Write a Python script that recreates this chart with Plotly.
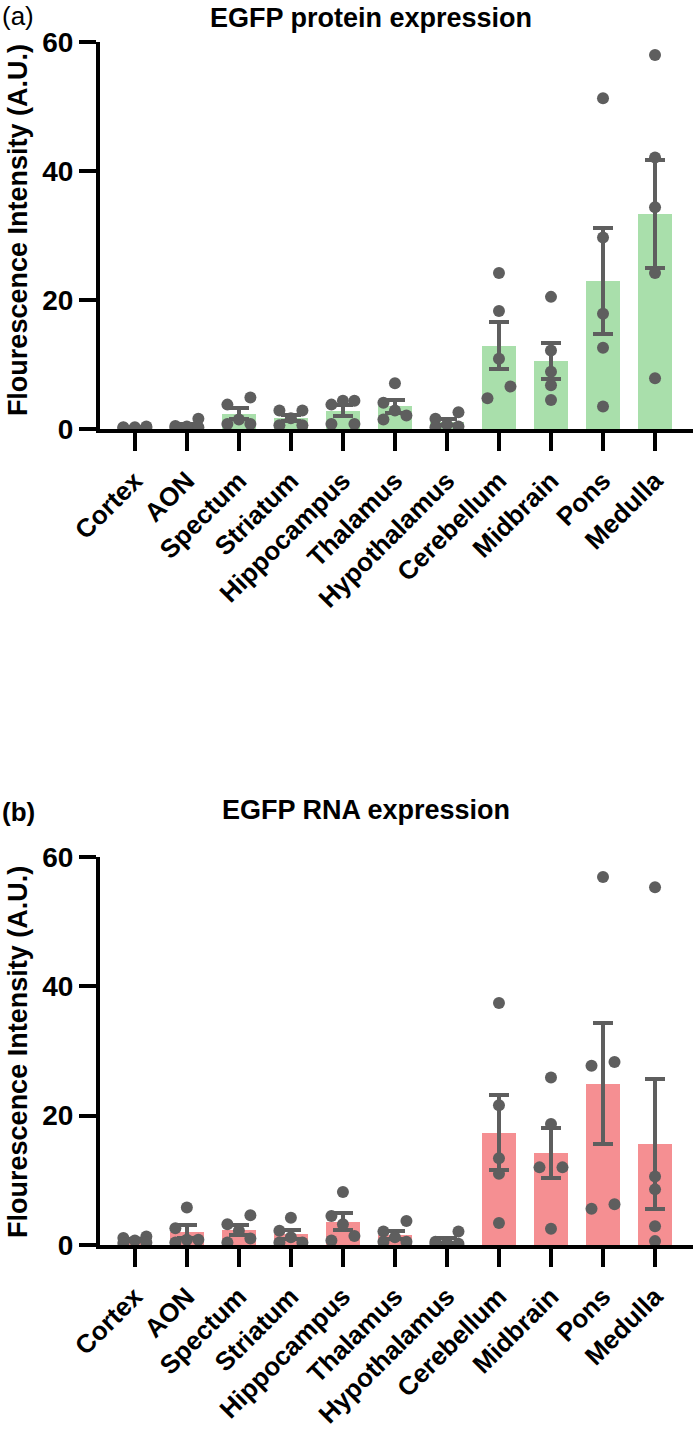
import numpy as np
import plotly.graph_objects as go

categories = ["Cortex", "AON", "Spectum", "Striatum", "Hippocampus", "Thalamus",
              "Hypothalamus", "Cerebellum", "Midbrain", "Pons", "Medulla"]

protein_points = [
    [0.2, 0.3, 0.4, 0.3, 0.2],
    [1.6, 0.5, 0.4, 0.3, 0.2],
    [4.9, 3.8, 1.5, 0.8, 0.8],
    [2.9, 2.9, 1.7, 0.6, 0.6],
    [4.4, 4.4, 3.8, 0.8, 0.8],
    [7.1, 4.1, 2.9, 2.1, 1.5],
    [2.6, 1.6, 0.7, 0.4, 0.3],
    [24.2, 18.3, 10.9, 6.6, 4.8],
    [20.5, 12.2, 8.9, 6.8, 4.5],
    [51.3, 29.7, 17.9, 12.6, 3.5],
    [58.0, 42.1, 34.4, 24.2, 7.9],
]

rna_points = [
    [1.3, 1.1, 0.7, 0.4, 0.3],
    [5.8, 2.6, 0.8, 0.8, 0.4],
    [4.6, 3.2, 2.2, 1.0, 0.4],
    [4.2, 2.2, 1.2, 0.4, 0.4],
    [8.2, 4.5, 3.2, 1.4, 0.7],
    [3.7, 2.1, 1.2, 0.5, 0.5],
    [2.1, 0.5, 0.3, 0.2, 0.2],
    [37.4, 21.6, 13.4, 11.0, 3.4],
    [25.9, 18.7, 12.0, 12.0, 2.5],
    [56.9, 28.3, 27.7, 6.3, 5.6],
    [55.3, 10.6, 8.6, 2.9, 0.6],
]

y_ticks = [0, 20, 40, 60]
titles = ["EGFP protein expression", "EGFP RNA expression"]
panel_labels = ["(a)", "(b)"]
y_title = "Flourescence Intensity (A.U.)"

GREEN = "#a9dfab"
RED = "#f58f92"
GREY = "#5e5e5e"
FONT = "Liberation Sans, Arial, sans-serif"

W, H = 693, 1429
ML, MR, MT, MB = 100, 0, 42, 172
plot_w = W - ML - MR
plot_h = H - MT - MB
XR = [-0.67, 10.73]
YR = [0, 60]
DOT = 12  # marker diameter px
px_per_x = plot_w / (XR[1] - XR[0])

top_dom = [(1257 - 433) / plot_h, 1.0]
bot_dom = [0.0, 392 / plot_h]
px_per_y = (top_dom[1] - top_dom[0]) * plot_h / (YR[1] - YR[0])


def swarm(vals):
    """Beeswarm-like offsets (category units) for dots in one column."""
    vals = np.asarray(vals, float)
    order = np.argsort(vals, kind="stable")
    offs = np.zeros(len(vals))
    clusters, cur = [], [order[0]]
    for a, b in zip(order[:-1], order[1:]):
        if (vals[b] - vals[a]) * px_per_y < DOT:
            cur.append(b)
        else:
            clusters.append(cur)
            cur = [b]
    clusters.append(cur)
    d = (DOT - 0.5) / px_per_x
    pattern = [-1, 1, 0]
    for c in clusters:
        if len(c) == 1:
            continue
        for k, idx in enumerate(c):
            offs[idx] = pattern[k % 3] * d
    return offs


fig = go.Figure()
idx = np.arange(len(categories))

for p, (pts, color) in enumerate([(protein_points, GREEN), (rna_points, RED)]):
    xa = "x" if p == 0 else "x2"
    ya = "y" if p == 0 else "y2"
    means = [float(np.mean(v)) for v in pts]
    sems = [float(np.std(v, ddof=1) / np.sqrt(len(v))) for v in pts]
    fig.add_trace(go.Bar(
        x=idx, y=means, width=0.65, marker=dict(color=color, line=dict(width=0)),
        error_y=dict(type="data", array=sems, visible=True, color=GREY,
                     thickness=4, width=10),
        xaxis=xa, yaxis=ya, showlegend=False))
    xs, ys = [], []
    for i, v in enumerate(pts):
        o = swarm(v)
        xs.extend(list(i + o))
        ys.extend(v)
    fig.add_trace(go.Scatter(
        x=xs, y=ys, mode="markers",
        marker=dict(color=GREY, size=DOT, line=dict(width=0)),
        xaxis=xa, yaxis=ya, showlegend=False))

axis_common = dict(showline=True, linewidth=4, linecolor="black", ticks="outside",
                   tickwidth=4, tickcolor="black", showgrid=False, zeroline=False)
xtickfont = dict(family=FONT, size=26, color="black", weight="bold")
ytickfont = dict(family=FONT, size=28, color="black", weight="bold")

for k, dom in enumerate([top_dom, bot_dom]):
    sfx = "" if k == 0 else "2"
    fig.layout["xaxis" + sfx] = dict(
        axis_common, domain=[0, 1], range=XR, tickmode="array", tickvals=list(idx),
        ticktext=categories, tickangle=-45, ticklen=18, tickfont=xtickfont,
        ticklabelstandoff=4, anchor="y" + sfx)
    fig.layout["yaxis" + sfx] = dict(
        axis_common, domain=dom, range=YR, tickmode="array", tickvals=y_ticks,
        ticklen=17, tickfont=ytickfont, anchor="x" + sfx)


def py2paper(py):
    """page pixel y -> paper coordinate"""
    return (1257 - py) / plot_h


def px2paper(px):
    """page pixel x -> paper coordinate"""
    return (px - ML) / plot_w


ann = []
for py in (232, 1062):
    ann.append(dict(text=y_title, textangle=-90, x=px2paper(18), y=py2paper(py),
                    xref="paper", yref="paper", showarrow=False, xanchor="center",
                    yanchor="middle", font=dict(family=FONT, size=27, color="black",
                                                weight="bold")))
ann.append(dict(text=titles[0], x=px2paper(371), y=py2paper(18), xref="paper", yref="paper",
                showarrow=False, xanchor="center", yanchor="middle",
                font=dict(family=FONT, size=27, color="black", weight="bold")))
ann.append(dict(text=titles[1], x=px2paper(366), y=py2paper(818), xref="paper", yref="paper",
                showarrow=False, xanchor="center", yanchor="middle",
                font=dict(family=FONT, size=27, color="black", weight="bold")))
ann.append(dict(text=panel_labels[0], x=px2paper(0), y=py2paper(16), xref="paper",
                yref="paper", showarrow=False, xanchor="left", yanchor="middle",
                font=dict(family=FONT, size=26, color="black")))
ann.append(dict(text=panel_labels[1], x=px2paper(0), y=py2paper(820), xref="paper",
                yref="paper", showarrow=False, xanchor="left", yanchor="middle",
                font=dict(family=FONT, size=26, color="black", weight="bold")))

fig.update_layout(
    width=W, height=H, margin=dict(l=ML, r=MR, t=MT, b=MB),
    paper_bgcolor="white", plot_bgcolor="white", bargap=0,
    annotations=ann, showlegend=False,
)

fig.write_html("out.html", config={"displayModeBar": False},
               post_script="document.body.style.margin='0';document.body.style.overflow='hidden';")
